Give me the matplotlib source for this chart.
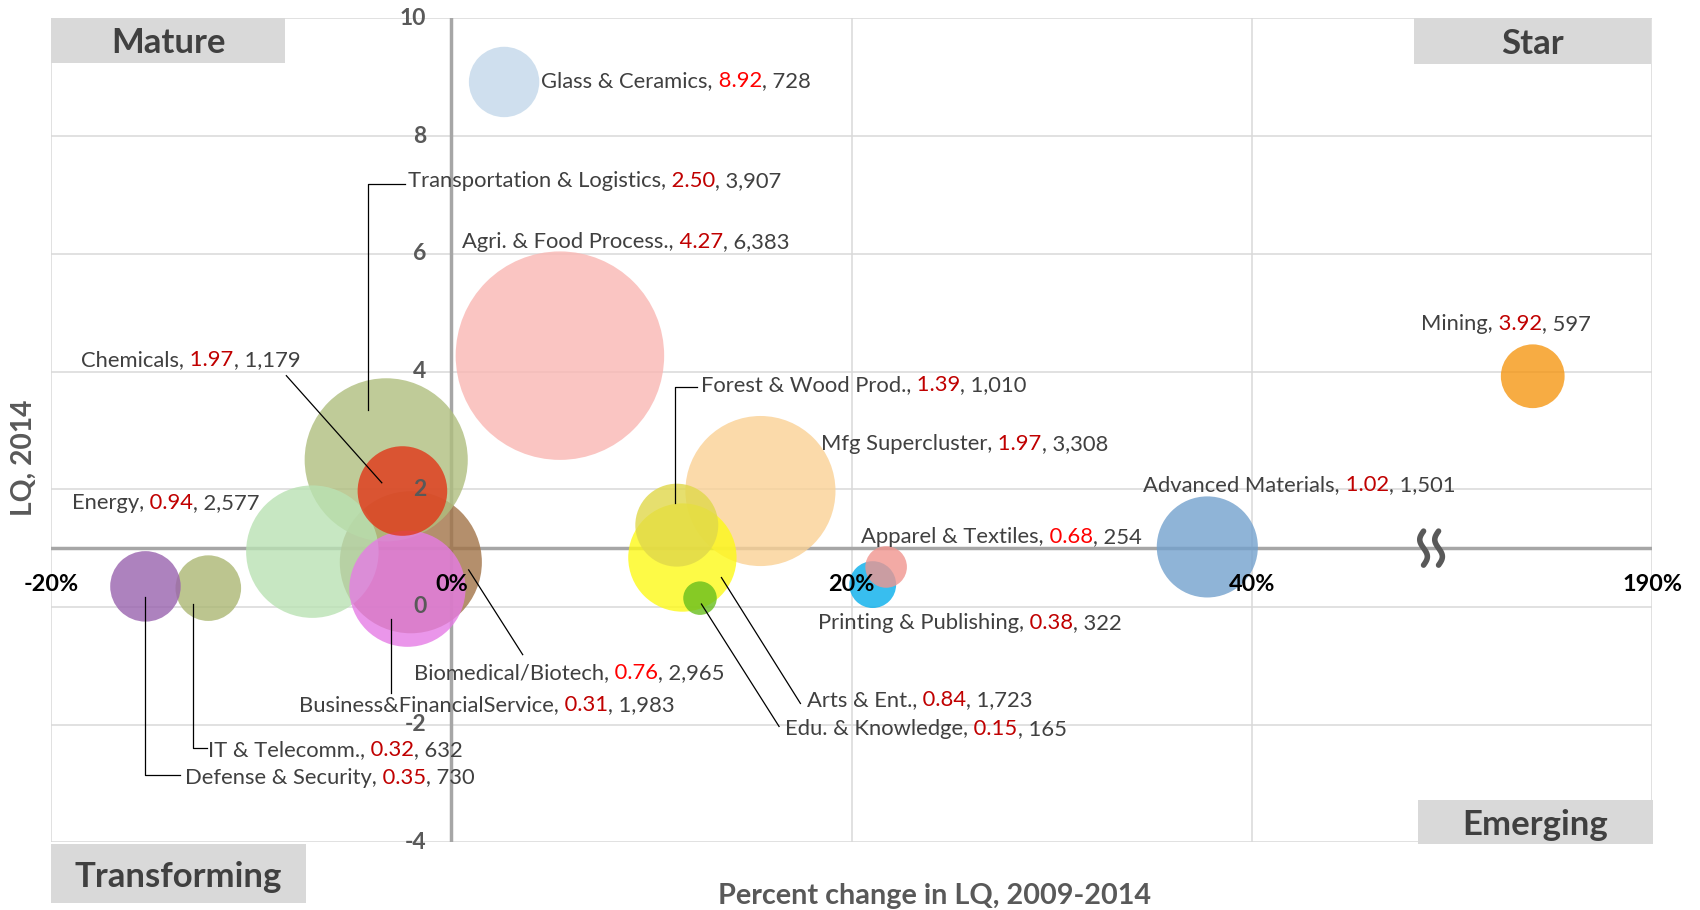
import numpy as np
import matplotlib
matplotlib.use('Agg')
import matplotlib.pyplot as plt
import matplotlib.transforms as mtransforms
from matplotlib.patches import Rectangle

plt.rcParams['font.family'] = ['Lato', 'DejaVu Sans']

# clusters, in drawing order (back to front)
names = ['Agri. & Food Process.', 'Mfg Supercluster', 'Biomedical/Biotech',
         'Transportation & Logistics', 'Energy', 'Business&FinancialService',
         'Chemicals', 'Glass & Ceramics', 'Arts & Ent.', 'Forest & Wood Prod.',
         'Edu. & Knowledge', 'IT & Telecomm.', 'Defense & Security',
         'Printing & Publishing', 'Apparel & Textiles', 'Advanced Materials', 'Mining']
# percent change in LQ 2009-2014 (axis units; Mining sits past the 40% -> 190% break)
pct_change = [5.43, 15.45, -2.02, -3.25, -6.94, -2.19, -2.44, 2.64, 11.55, 11.27,
              12.43, -12.14, -15.28, 21.06, 21.73, 37.78, 54.04]
lq_2014 = [4.27, 1.97, 0.76, 2.50, 0.94, 0.31, 1.97, 8.92, 0.84, 1.39,
           0.15, 0.32, 0.35, 0.38, 0.68, 1.02, 3.92]
employment = [6383, 3308, 2965, 3907, 2577, 1983, 1179, 728, 1723, 1010,
              165, 632, 730, 322, 254, 1501, 597]
colors = ['#f9b7b3', '#fad195', '#a17347', '#afbe7e', '#b9e2b3', '#e57ce5',
          '#e13719', '#c3d8ea', '#fdf918', '#e0d84a', '#68bf1d', '#abb773',
          '#9963ae', '#06aeec', '#f0958f', '#73a1cd', '#f59714']
value_red = ['#c00000', '#c00000', '#ff0000', '#c00000', '#c00000', '#c00000',
             '#c00000', '#ff0000', '#c00000', '#c00000', '#c00000', '#c00000',
             '#c00000', '#c00000', '#ff0000', '#c00000', '#c00000']

# label anchor (left, baseline) in data units
label_pos = [(0.54, 6.10), (18.48, 2.67), (-1.84, -1.23), (-2.17, 7.13), (-18.97, 1.66),
             (-7.59, -1.77), (-18.48, 4.09), (4.50, 8.84), (17.78, -1.69), (12.47, 3.67),
             (16.69, -2.17), (-12.14, -2.54), (-13.28, -3.00), (18.32, -0.37), (20.49, 1.09),
             (34.58, 1.97), (48.46, 4.70)]

# leader lines (polylines in data units)
leaders = [
    [(-2.33, 7.18), (-4.17, 7.18), (-4.17, 3.35)],      # Transportation
    [(-8.24, 3.93), (-3.47, 2.11)],                      # Chemicals
    [(0.87, 0.63), (3.57, -0.81)],                       # Biomedical
    [(-3.0, -0.21), (-3.0, -1.46)],                      # Business
    [(-12.88, 0.05), (-12.88, -2.40), (-12.21, -2.40)],  # IT
    [(-15.32, 0.17), (-15.32, -2.86), (-13.56, -2.86)],  # Defense
    [(12.28, 3.745), (11.18, 3.745), (11.18, 1.76)],     # Forest
    [(13.50, 0.50), (17.45, -1.64)],                     # Arts
    [(12.50, 0.05), (16.38, -2.03)],                     # Edu
]

x_ticks = [-20, 0, 20, 40, 60]
x_tick_labels = ['-20%', '0%', '20%', '40%', '190%']
y_ticks = [10, 8, 6, 4, 2, 0, -2, -4]

fig = plt.figure(figsize=(17, 9.1), dpi=100)
ax = fig.add_axes([51 / 1700, 1 - 842.4 / 910, 1601 / 1700, 824 / 910])
ax.set_xlim(-20, 60)
ax.set_ylim(-4, 10)
for s in ax.spines.values():
    s.set_visible(False)
ax.set_xticks(x_ticks)
ax.set_yticks(y_ticks)
ax.tick_params(length=0, labelbottom=False, labelleft=False)
ax.grid(color='#d9d9d9', lw=1.1)
ax.set_axisbelow(True)

ax.axhline(1, color='#a6a6a6', lw=2.5, zorder=1)
ax.axvline(0, color='#a6a6a6', lw=2.5, zorder=1)

# bubbles
ax.scatter(pct_change, lq_2014, s=np.array(employment) * 3.53, c=colors,
           alpha=0.8, edgecolors='none', zorder=2)

for pts in leaders:
    xs, ys = zip(*pts)
    ax.plot(xs, ys, color='black', lw=0.9, zorder=3)

dark = '#404040'
renderer = fig.canvas.get_renderer()


def rich_label(x, y, parts, size=15.8):
    tr = ax.transData
    for s, c in parts:
        t = ax.text(x, y, s, color=c, fontsize=size, transform=tr,
                    ha='left', va='baseline', zorder=4)
        w = t.get_window_extent(renderer).width
        tr = mtransforms.offset_copy(tr, fig=fig, x=w, y=0, units='dots')


for i, n in enumerate(names):
    lx, ly = label_pos[i]
    rich_label(lx, ly, [(n + ',', dark),
                        (' %.2f' % lq_2014[i], value_red[i]),
                        (', {:,}'.format(employment[i]), dark)])

# axis numbers
for v in y_ticks:
    ax.annotate(str(v), xy=(0, v), xytext=(-18, 0), textcoords='offset points',
                ha='right', va='center', fontsize=16.5, fontweight='bold',
                color='#595959', annotation_clip=False, zorder=4)
for v, lbl in zip(x_ticks, x_tick_labels):
    ax.annotate(lbl, xy=(v, 1), xytext=(0, -26), textcoords='offset points',
                ha='center', va='center', fontsize=16.8, fontweight='bold',
                color='black', annotation_clip=False, zorder=4)

# axis break squiggles
bx, by = ax.transData.transform((48.96, 1))
t = np.linspace(-1, 1, 60)
for dx in (-7.5, 7.5):
    ax.plot(bx + dx + 3.8 * np.sin(np.pi * t), by - 17 * t, color='#595959',
            lw=4, solid_capstyle='round', transform=None, zorder=5, clip_on=False)

# quadrant boxes
boxes = [('Mature', -20, -8.29, 9.25, 10), ('Star', 48.13, 59.95, 9.23, 10),
         ('Emerging', 48.29, 60.05, -4.02, -3.28), ('Transforming', -20, -7.26, -5.03, -4.03)]
for lbl, x0, x1, y0, y1 in boxes:
    ax.add_patch(Rectangle((x0, y0), x1 - x0, y1 - y0, facecolor='#d9d9d9',
                           edgecolor='none', clip_on=False, zorder=4))
    ax.text((x0 + x1) / 2, (y0 + y1) / 2 - 0.05, lbl, ha='center', va='center',
            fontsize=25, fontweight='bold', color='#404040', zorder=5)

fig.text(24 / 1700, 1 - 458 / 910, 'LQ, 2014', rotation=90, ha='center', va='center',
         fontsize=20.3, fontweight='bold', color='#595959')
fig.text(934 / 1700, 1 - 896 / 910, 'Percent change in LQ, 2009-2014', ha='center',
         va='center', fontsize=20.7, fontweight='bold', color='#595959')

fig.savefig('out.png', dpi=100)
